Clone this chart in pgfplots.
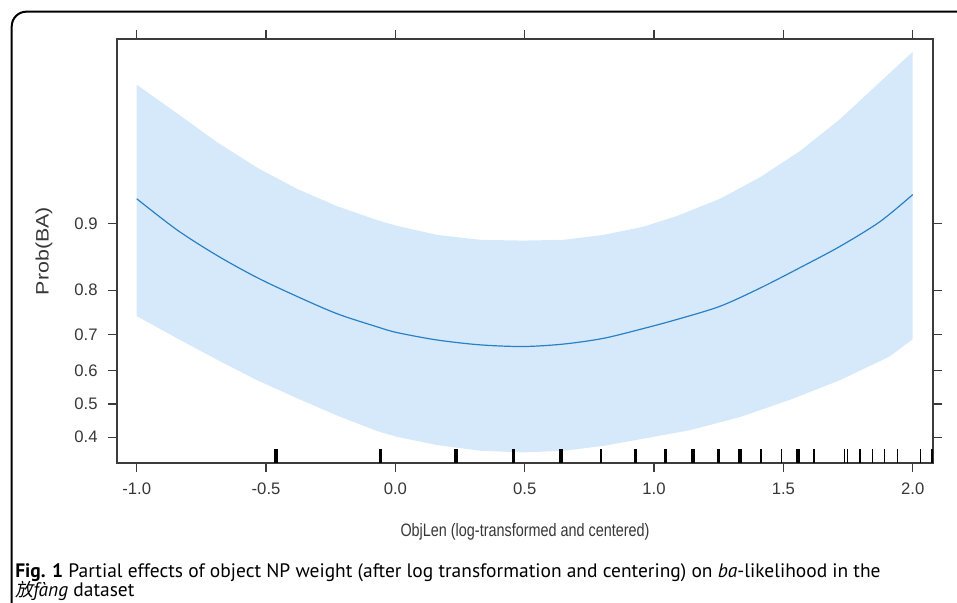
\documentclass[border=0pt]{standalone}
\usepackage{fontspec}
\setmainfont{Liberation Sans}
\newfontfamily\capfont{PT Sans}
\newfontfamily\cjk[FakeSlant=0.2]{Noto Sans CJK SC}
\usepackage{pgfplots}
\pgfplotsset{compat=1.18}

\definecolor{bandblue}{RGB}{214,233,250}
\definecolor{lineblue}{RGB}{40,128,198}
\definecolor{axisgray}{RGB}{60,60,60}
\definecolor{labgray}{RGB}{55,55,55}

\begin{document}
\begin{tikzpicture}
% outer figure frame
\draw[line width=1.5pt, rounded corners=11pt] (730pt,443.5pt) -- (8.8pt,443.5pt) -- (8.8pt,-10pt);

\begin{axis}[
    at={(87.75pt,105pt)}, anchor=south west,
    scale only axis, width=612pt, height=318pt,
    xmin=-1.0762, xmax=2.0785,
    ymin=-0.719, ymax=4.446,
    axis line style={axisgray, line width=1pt},
    tick style={axisgray, line width=0.9pt},
    tick align=outside, major tick length=7pt,
    xtick pos=both, ytick pos=both,
    xticklabel pos=lower, yticklabel pos=left,
    xtick={-1,-0.5,0,0.5,1,1.5,2},
    xticklabels={-1.0,-0.5,0.0,0.5,1.0,1.5,2.0},
    % y axis is on the logit scale, labelled with probabilities
    ytick={-0.4055,0,0.4055,0.8473,1.3863,2.1972},
    yticklabels={0.4,0.5,0.6,0.7,0.8,0.9},
    ticklabel style={font=\fontsize{12.5}{14}\selectfont, text=labgray},
    xticklabel style={yshift=-4.5pt},
    yticklabel style={xshift=-4pt},
    xlabel={\scalebox{0.8}[1]{ObjLen (log-transformed and centered)}},
    xlabel style={at={(axis description cs:0.5,-0.163)}, anchor=center,
        font=\fontsize{13.5}{15}\selectfont, text=labgray},
    ylabel={\scalebox{1.19}[1]{Prob(BA)}},
    ylabel style={at={(axis description cs:-0.0895,0.5)}, anchor=center,
        font=\fontsize{13.5}{15}\selectfont, text=labgray},
]
% confidence band (logit scale): upper edge left to right, lower edge right to left
\addplot[fill=bandblue, draw=none] coordinates {
    (-1.000,3.89) (-0.844,3.54) (-0.690,3.19) (-0.535,2.88) (-0.380,2.62)
    (-0.226,2.41) (-0.071,2.24) (0.006,2.17) (0.160,2.06) (0.328,2.00)
    (0.496,1.99) (0.651,2.00) (0.805,2.06) (0.960,2.16) (1.089,2.29)
    (1.255,2.50) (1.409,2.76) (1.564,3.08) (1.719,3.47) (1.873,3.92)
    (2.000,4.29)
    (2.000,0.79) (1.912,0.58) (1.719,0.29) (1.525,0.05) (1.332,-0.16)
    (1.138,-0.32) (0.946,-0.43) (0.805,-0.51) (0.651,-0.57) (0.496,-0.59)
    (0.328,-0.57) (0.160,-0.50) (0.006,-0.40) (-0.071,-0.33) (-0.226,-0.14)
    (-0.380,0.07) (-0.535,0.29) (-0.690,0.54) (-0.844,0.80) (-1.000,1.07)
    } -- cycle;

% fitted effect
\addplot[lineblue, line width=0.9pt, smooth] coordinates {
    (-1.000,2.50) (-0.844,2.12) (-0.690,1.81) (-0.535,1.54) (-0.380,1.31)
    (-0.226,1.10) (-0.071,0.94) (0.006,0.87) (0.160,0.78) (0.328,0.72)
    (0.496,0.70) (0.651,0.73) (0.805,0.80) (0.960,0.92) (1.089,1.03)
    (1.255,1.19) (1.409,1.41) (1.564,1.66) (1.719,1.92) (1.873,2.22)
    (2.000,2.55)};

% rug of observed ObjLen values
\addplot[only marks, mark=|, mark size=5.25pt, mark options={line width=3pt, black}]
    coordinates {(-0.461,-0.633) (0.234,-0.633) (0.639,-0.633)
                 (1.149,-0.633) (1.332,-0.633) (1.555,-0.633)};
\addplot[only marks, mark=|, mark size=5.25pt, mark options={line width=2.2pt, black}]
    coordinates {(-0.056,-0.633) (0.455,-0.633) (0.795,-0.633)
                 (0.928,-0.633) (1.045,-0.633) (1.250,-0.633)};
\addplot[only marks, mark=|, mark size=5.25pt, mark options={line width=1.2pt, black}]
    coordinates {(1.413,-0.633) (1.493,-0.633) (1.618,-0.633)
                 (1.796,-0.633) (2.075,-0.633)};
\addplot[only marks, mark=|, mark size=5.25pt, mark options={line width=0.75pt, black}]
    coordinates {(1.737,-0.633) (1.747,-0.633) (1.845,-0.633)
                 (1.890,-0.633) (1.940,-0.633) (2.031,-0.633)};
\end{axis}

% figure caption (one node, two lines; base is the last line)
\node[anchor=base west, inner sep=0pt, align=left,
      font=\capfont\fontsize{14.6}{14.6}\selectfont]
    at (11.25pt,4.5pt)
    {\textbf{Fig. 1} Partial effects of object NP weight (after log transformation and centering) on \textit{ba}-likelihood in the\\
     {\cjk\fontsize{13.5}{14.6}\selectfont 放}\textit{fàng} dataset};

\pgfresetboundingbox
\path[use as bounding box] (0,0) rectangle (717.75pt,452.25pt);
\end{tikzpicture}
\end{document}
